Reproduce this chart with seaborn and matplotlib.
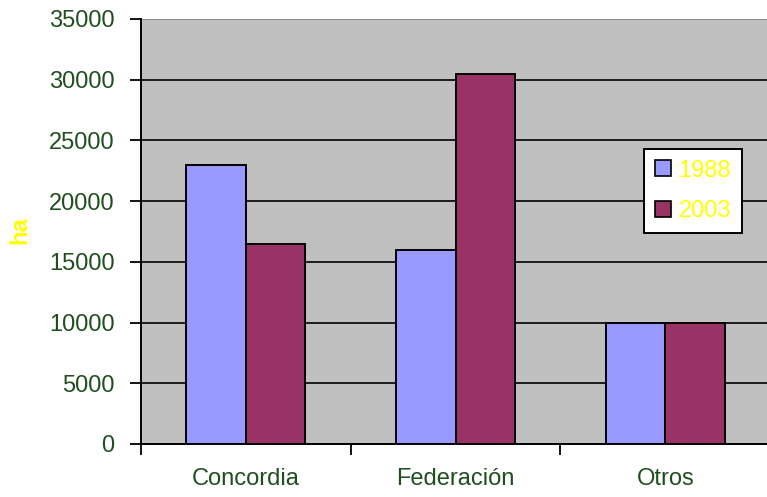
import matplotlib
matplotlib.use("Agg")
import matplotlib.pyplot as plt
import seaborn as sns
import pandas as pd
from matplotlib.ticker import FixedLocator

categories = ["Concordia", "Federación", "Otros"]
years = ["1988", "2003"]
values_1988 = [23000, 16000, 10000]
values_2003 = [16500, 30500, 10000]
yticks = [0, 5000, 10000, 15000, 20000, 25000, 30000, 35000]

df = pd.DataFrame({
    "cat": categories * 2,
    "year": [years[0]] * 3 + [years[1]] * 3,
    "ha": values_1988 + values_2003,
})

sns.set_theme(style="white")
plt.rcParams['font.family'] = ['Liberation Sans', 'DejaVu Sans']

fig = plt.figure(figsize=(7.67, 4.97), dpi=100)
ax = fig.add_axes([141/767, 1 - 444/497, 1 - 141/767, (444 - 19)/497])
ax.set_facecolor("#C0C0C0")

sns.barplot(data=df, x="cat", y="ha", hue="year",
            palette=["#9999FF", "#993366"], width=0.567,
            edgecolor="black", linewidth=1.4, ax=ax, zorder=3, saturation=1)

ax.set_ylim(0, 35000)
ax.set_xlim(-0.5, 2.485)
ax.set_yticks(yticks)
ax.set_yticklabels([str(v) for v in yticks])
ax.yaxis.grid(True, color="black", linewidth=1.2, zorder=0)
ax.set_axisbelow(True)
ax.get_ygridlines()[-1].set_color("#808080")

tick_color = "#1F4F1F"
fs = 17
ax.tick_params(axis="y", which="major", direction="out", length=8, width=1.3,
               color="black", labelsize=fs, labelcolor=tick_color, pad=11, left=True)
ax.tick_params(axis="x", which="major", length=0, labelsize=fs,
               labelcolor=tick_color, pad=17)
ax.xaxis.set_minor_locator(FixedLocator([-0.5, 0.5, 1.5]))
ax.tick_params(axis="x", which="minor", direction="out", length=8, width=1.3,
               color="black", bottom=True)

for s in ["top", "right"]:
    ax.spines[s].set_visible(False)
for s in ["left", "bottom"]:
    ax.spines[s].set_color("black")
    ax.spines[s].set_linewidth(1.4)

ax.set_xlabel("")
ax.set_ylabel("ha", color="#FFFF00", fontsize=fs, fontweight="bold")
ax.yaxis.set_label_coords((31 - 141) / 626, (444 - 230) / 425)

leg = ax.legend(title=None, loc="upper left",
                bbox_to_anchor=((644 - 141) / 626, 1 - (149 - 19) / 425),
                frameon=True, fancybox=False, edgecolor="black", facecolor="white",
                framealpha=1, fontsize=fs, labelcolor="#FFFF00",
                handlelength=0.68, handleheight=0.68, handletextpad=0.34,
                borderpad=0.45, labelspacing=0.78, borderaxespad=0)
leg.get_frame().set_linewidth(1.4)
for h in leg.legend_handles:
    h.set_edgecolor("black")
    h.set_linewidth(1.2)

fig.savefig("out.png", dpi=100)
